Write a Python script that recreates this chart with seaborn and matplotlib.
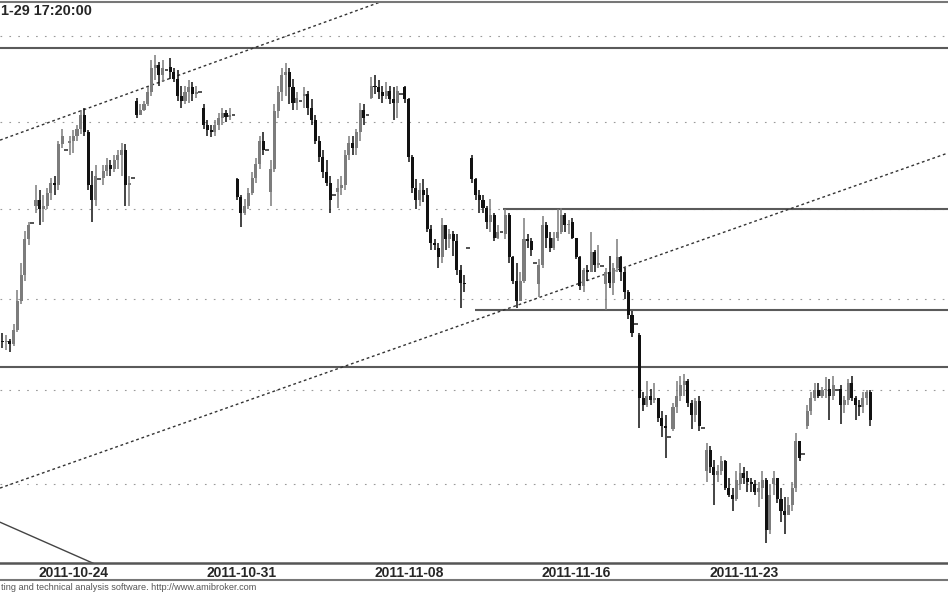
import numpy as np
import pandas as pd
import seaborn as sns
import matplotlib
matplotlib.use("Agg")
import matplotlib.pyplot as plt
import matplotlib.transforms as mtransforms
from matplotlib.lines import Line2D

# WIG20, hourly bars (9 per session, last one = closing fixing), Oct 21 - Nov 29 2011
days = ['10-21', '10-24', '10-25', '10-26', '10-27', '10-28', '10-31', '11-02', '11-03',
        '11-04', '11-07', '11-08', '11-09', '11-10', '11-14', '11-15', '11-16', '11-17',
        '11-18', '11-21', '11-22', '11-23', '11-24', '11-25', '11-28', '11-29']

day_open = [2177, 2252, 2288, 2268, 2312, 2332, 2308, 2267, 2260, 2315, 2260, 2314, 2320,
            2228, 2279, 2236, 2208, 2243, 2208, 2180, 2129, 2107, 2100, 2100, 2131, 2151]

closes = [
    2176, 2177, 2175, 2183, 2199, 2213, 2233, 2241, 2242,
    2255, 2250, 2252, 2259, 2265, 2264, 2287, 2292, 2284,
    2289, 2292, 2296, 2304, 2294, 2264, 2255, 2269, 2267,
    2272, 2275, 2273, 2278, 2281, 2284, 2264, 2265, 2268,
    2304, 2307, 2310, 2317, 2331, 2333, 2327, 2331, 2330,
    2329, 2325, 2315, 2312, 2317, 2320, 2316, 2317, 2317,
    2298, 2295, 2294, 2298, 2302, 2305, 2303, 2304, 2304,
    2257, 2248, 2252, 2259, 2268, 2276, 2289, 2284, 2284,
    2273, 2306, 2317, 2327, 2329, 2320, 2311, 2314, 2312,
    2316, 2308, 2301, 2289, 2280, 2271, 2265, 2255, 2258,
    2262, 2264, 2281, 2288, 2285, 2294, 2307, 2302, 2304,
    2321, 2320, 2317, 2315, 2318, 2313, 2311, 2318, 2316,
    2313, 2280, 2262, 2255, 2261, 2258, 2239, 2231, 2230,
    2223, 2241, 2233, 2236, 2232, 2216, 2209, 2208, 2228,
    2267, 2258, 2255, 2251, 2243, 2247, 2234, 2237, 2237,
    2247, 2223, 2210, 2199, 2210, 2233, 2232, 2227, 2220,
    2219, 2241, 2234, 2228, 2234, 2237, 2247, 2241, 2241,
    2234, 2223, 2207, 2216, 2215, 2226, 2219, 2220, 2218,
    2215, 2209, 2217, 2223, 2215, 2204, 2191, 2181, 2186,
    2146, 2142, 2147, 2145, 2146, 2135, 2131, 2130, 2125,
    2141, 2147, 2153, 2155, 2143, 2137, 2144, 2131, 2130,
    2118, 2109, 2105, 2107, 2112, 2098, 2094, 2092, 2102,
    2106, 2103, 2101, 2100, 2096, 2098, 2102, 2076, 2094,
    2103, 2092, 2086, 2084, 2089, 2098, 2123, 2114, 2116,
    2139, 2146, 2150, 2147, 2150, 2151, 2147, 2153, 2150,
    2142, 2145, 2154, 2146, 2142, 2141, 2146, 2149, 2134,
]

highs = [
    2181, 2180, 2178, 2186, 2205, 2220, 2238, 2243, 2242,
    2264, 2261, 2258, 2262, 2268, 2269, 2289, 2296, 2284,
    2292, 2295, 2298, 2307, 2308, 2295, 2272, 2275, 2267,
    2275, 2279, 2278, 2281, 2284, 2288, 2287, 2269, 2268,
    2314, 2310, 2312, 2320, 2336, 2339, 2335, 2336, 2330,
    2337, 2331, 2330, 2321, 2321, 2324, 2323, 2321, 2317,
    2310, 2301, 2298, 2301, 2305, 2308, 2307, 2308, 2304,
    2268, 2258, 2256, 2262, 2271, 2279, 2292, 2294, 2284,
    2278, 2310, 2321, 2331, 2334, 2331, 2325, 2317, 2312,
    2320, 2318, 2313, 2304, 2292, 2284, 2278, 2269, 2258,
    2267, 2269, 2284, 2292, 2292, 2296, 2311, 2310, 2304,
    2326, 2327, 2324, 2321, 2323, 2321, 2320, 2321, 2316,
    2321, 2314, 2281, 2267, 2265, 2267, 2262, 2241, 2233,
    2231, 2245, 2241, 2239, 2238, 2236, 2219, 2213, 2228,
    2281, 2268, 2261, 2258, 2252, 2256, 2248, 2241, 2237,
    2250, 2248, 2224, 2220, 2215, 2245, 2236, 2234, 2220,
    2222, 2246, 2243, 2237, 2237, 2250, 2251, 2248, 2244,
    2245, 2234, 2224, 2217, 2219, 2237, 2227, 2230, 2218,
    2217, 2224, 2220, 2233, 2224, 2217, 2205, 2193, 2186,
    2181, 2149, 2155, 2151, 2154, 2146, 2139, 2137, 2125,
    2143, 2155, 2158, 2159, 2156, 2145, 2146, 2147, 2130,
    2122, 2120, 2113, 2110, 2115, 2113, 2103, 2098, 2107,
    2111, 2109, 2107, 2103, 2102, 2101, 2107, 2103, 2100,
    2107, 2103, 2098, 2093, 2093, 2101, 2127, 2123, 2116,
    2142, 2149, 2154, 2154, 2152, 2157, 2156, 2158, 2150,
    2153, 2147, 2156, 2158, 2147, 2145, 2149, 2150, 2150,
]

lows = [
    2173, 2172, 2171, 2174, 2182, 2197, 2210, 2230, 2242,
    2248, 2241, 2243, 2250, 2255, 2258, 2261, 2285, 2284,
    2281, 2282, 2289, 2293, 2292, 2261, 2243, 2252, 2267,
    2264, 2269, 2269, 2271, 2273, 2269, 2252, 2252, 2268,
    2302, 2304, 2306, 2309, 2315, 2324, 2321, 2323, 2330,
    2325, 2323, 2312, 2308, 2310, 2311, 2312, 2314, 2317,
    2296, 2292, 2291, 2292, 2295, 2298, 2300, 2301, 2304,
    2255, 2240, 2247, 2250, 2258, 2265, 2273, 2281, 2284,
    2252, 2271, 2302, 2312, 2315, 2310, 2307, 2307, 2312,
    2308, 2304, 2298, 2287, 2277, 2268, 2263, 2248, 2258,
    2251, 2258, 2261, 2278, 2281, 2281, 2289, 2298, 2304,
    2313, 2316, 2313, 2311, 2313, 2310, 2301, 2302, 2316,
    2311, 2277, 2259, 2250, 2252, 2254, 2237, 2227, 2227,
    2217, 2220, 2227, 2228, 2224, 2213, 2195, 2204, 2228,
    2265, 2255, 2248, 2248, 2239, 2237, 2232, 2233, 2237,
    2233, 2220, 2208, 2195, 2199, 2209, 2228, 2224, 2220,
    2201, 2217, 2228, 2226, 2227, 2232, 2236, 2237, 2236,
    2233, 2222, 2205, 2204, 2210, 2215, 2215, 2217, 2218,
    2194, 2206, 2202, 2215, 2210, 2200, 2189, 2179, 2186,
    2130, 2139, 2141, 2142, 2143, 2133, 2125, 2114, 2125,
    2128, 2138, 2144, 2147, 2141, 2129, 2133, 2128, 2130,
    2101, 2106, 2089, 2101, 2105, 2097, 2093, 2086, 2091,
    2097, 2100, 2096, 2096, 2094, 2088, 2092, 2069, 2074,
    2094, 2090, 2080, 2074, 2084, 2086, 2096, 2112, 2116,
    2129, 2137, 2144, 2146, 2146, 2146, 2134, 2145, 2150,
    2132, 2138, 2142, 2144, 2134, 2136, 2138, 2142, 2131,
]

tick_days = ['2011-10-24', '2011-10-31', '2011-11-08', '2011-11-16', '2011-11-23']
grid_levels = [2100, 2150, 2200, 2250, 2300, 2350]

# drawn support / resistance levels: (price, first bar)
levels = [(2343, None), (2162.6, None), (2250, 125.4), (2193.8, 117.9)]
# trend lines: bar index / price anchors
upper_trend = ([-9.66, 103.1], [2289.4, 2378.8])
lower_trend = ([-9.66, 244.8], [2097.9, 2282.0])
down_line = ([-9.66, 22.5], [2080.0, 2052.6])

title_text = '1-29 17:20:00'
footer_text = 'ting and technical analysis software. http://www.amibroker.com'

BARS_PER_DAY = 9

# --- build bars ---
df = pd.DataFrame({'close': closes, 'high': highs, 'low': lows})
df['day'] = np.repeat(np.arange(len(days)), BARS_PER_DAY)
df['k'] = np.tile(np.arange(BARS_PER_DAY), len(days))
df['idx'] = np.arange(len(df)) - BARS_PER_DAY
prev_close = df['close'].shift(1)
df['open'] = np.where(df['k'] == 0, np.array(day_open)[df['day']], prev_close)
df['dash'] = df['high'] == df['low']

sns.set_style("white")
plt.rcParams['font.family'] = ['Liberation Sans', 'DejaVu Sans']

W, H = 948, 593
XLIM = (-9.664, 244.83)
YLIM = (2058.8, 2370.2)
fig = plt.figure(figsize=(W / 100, H / 100), dpi=100)
ax = fig.add_axes([0, (H - 563) / H, 1, (563 - 2) / H])
ax.set_yscale('log')

# grid
for g in grid_levels:
    ax.axhline(g, color='#9a9a9a', lw=0.8, ls=(0, (1.5, 6.5)), zorder=0)

# candles
bars = df[~df['dash']]
up = bars['close'] >= bars['open']
cols = np.where(up, '#7c7c7c', '#111111')
ax.vlines(bars['idx'], bars['low'], bars['high'], colors=cols, lw=1.1, zorder=3)
bottoms = np.minimum(bars['open'], bars['close'])
heights = np.maximum(np.abs(bars['close'] - bars['open']), 0.7)
ax.bar(bars['idx'], heights, bottom=bottoms, width=0.82, color=cols, linewidth=0, zorder=4)

dashes = df[df['dash']]
ax.hlines(dashes['close'], dashes['idx'] - 0.5, dashes['idx'] + 0.5, color='#333333', lw=1.2, zorder=4)

# horizontal levels
for price, start in levels:
    x0 = XLIM[0] if start is None else start
    ax.hlines(price, x0, XLIM[1], color='#5a5a5a', lw=1.5, zorder=2)

# trend lines
sns.lineplot(x=upper_trend[0], y=upper_trend[1], ax=ax, color='#333333', lw=1.0,
             linestyle=(0, (2, 2)), estimator=None, zorder=2)
sns.lineplot(x=lower_trend[0], y=lower_trend[1], ax=ax, color='#333333', lw=1.0,
             linestyle=(0, (2, 2)), estimator=None, zorder=2)
sns.lineplot(x=down_line[0], y=down_line[1], ax=ax, color='#444444', lw=1.0,
             estimator=None, zorder=2)
ax.set_xlim(*XLIM)
ax.set_ylim(*YLIM)

# axes frame
for s in ['left', 'right']:
    ax.spines[s].set_visible(False)
ax.spines['top'].set_color('#777777')
ax.spines['top'].set_linewidth(1.5)
ax.spines['bottom'].set_color('#555555')
ax.spines['bottom'].set_linewidth(1.8)

ax.set_yticks([])
ax.yaxis.set_minor_locator(matplotlib.ticker.NullLocator())
tick_pos = [days.index(d[5:]) * BARS_PER_DAY - BARS_PER_DAY for d in tick_days]
ax.set_xticks(tick_pos)
ax.set_xticklabels(tick_days, ha='left', fontweight='bold', fontsize=10)
ax.tick_params(axis='x', direction='out', length=7, width=0.9, color='#333333', pad=-4.5)
offset = mtransforms.ScaledTranslation(3 / 100, 0, fig.dpi_scale_trans)
for lab in ax.get_xticklabels():
    lab.set_transform(lab.get_transform() + offset)
ax.set_xlabel('')
ax.set_ylabel('')

# title and footer
fig.text(1 / W, 1 - 11 / H, title_text, ha='left', va='center',
         fontweight='bold', fontsize=10.4)
fig.add_artist(Line2D([0, 1], [1 - 580 / H] * 2, transform=fig.transFigure,
                      color='#777777', lw=1.5))
fig.text(1 / W, 1 - 588 / H, footer_text, ha='left', va='center',
         fontsize=6.6, color='#555555')

fig.savefig('out.png', dpi=100, facecolor='white')
